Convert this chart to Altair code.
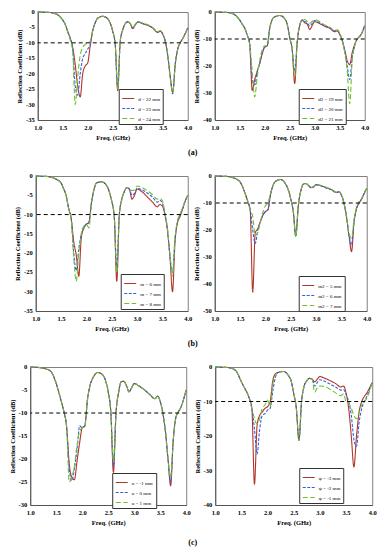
import altair as alt
import pandas as pd

freq = [1.0, 1.1, 1.2, 1.3, 1.4, 1.5, 1.55, 1.6, 1.65, 1.7,
        1.75, 1.8, 1.85, 1.9, 1.95, 2.0, 2.05, 2.1, 2.15, 2.2,
        2.3, 2.4, 2.45, 2.5, 2.55, 2.6, 2.65, 2.7, 2.75, 2.8,
        2.85, 2.9, 2.95, 3.0, 3.1, 3.2, 3.3, 3.4, 3.45, 3.5,
        3.55, 3.6, 3.65, 3.7, 3.75, 3.8, 3.85, 3.9, 3.95, 4.0]

# (a) left
a1_labels = ["d = 22 mm", "d = 23 mm", "d = 24 mm"]
a1_s1 = [0, -0.05, -0.1, -0.3, -0.9, -2.6, -4.0, -6.3, -8.5, -11.5,
         -17, -24, -27.5, -20, -17.5, -16.5, -11, -6, -3.5, -2.0,
         -1.4, -2.2, -3.6, -6.2, -10.5, -25.5, -9.5, -5.8, -3.8, -3.2,
         -3.8, -5.4, -4.2, -3.3, -3.8, -4.3, -5.2, -6.6, -6.2, -7.2,
         -9.5, -14, -21, -26, -17, -12, -10, -8.6, -7, -5.2]
a1_s2 = [0, -0.05, -0.1, -0.3, -0.9, -2.6, -4.0, -6.3, -8.5, -11.8,
         -24, -27, -20, -15, -13.5, -12, -10.5, -6, -3.5, -2.0,
         -1.4, -2.2, -3.6, -6.2, -10.5, -24.5, -9.5, -5.8, -3.8, -3.2,
         -3.8, -5.2, -4.1, -3.2, -3.7, -4.2, -5.1, -6.5, -6.1, -7.1,
         -9.4, -14, -21, -26.5, -17, -12, -10, -8.6, -7, -5.2]
a1_s3 = [0, -0.05, -0.1, -0.3, -0.9, -2.6, -4.1, -6.5, -9, -13,
         -30, -21, -14, -11.5, -10.5, -10, -9.5, -6, -3.5, -2.0,
         -1.4, -2.2, -3.6, -6.2, -10.5, -25, -9.5, -5.8, -3.8, -3.1,
         -3.7, -5.0, -4.0, -3.1, -3.6, -4.1, -5.0, -6.4, -6.0, -7.0,
         -9.3, -14, -21.5, -26, -17, -12, -10, -8.6, -7, -5.2]

# (a) right
a2_labels = ["d2 = 19 mm", "d2 = 20 mm", "d2 = 21 mm"]
a2_s1 = [0, -0.05, -0.1, -0.3, -1.0, -3.0, -4.5, -6.0, -8.5, -12,
         -29, -25, -22, -19, -15.5, -13, -12.5, -6, -2.8, -1.8,
         -1.3, -2.5, -4.5, -9.5, -14, -26.5, -11, -5, -3.0, -4.0,
         -4.5, -6.5, -5.0, -3.6, -4.3, -5.3, -6.0, -7.3, -7.0, -8.3,
         -10.5, -14, -18, -19.5, -15, -12, -10, -9, -7.5, -5]
a2_s2 = [0, -0.05, -0.1, -0.3, -1.0, -3.0, -4.5, -6.0, -8.5, -12,
         -25, -27, -22, -19, -15, -13, -12.5, -6, -2.8, -1.8,
         -1.3, -2.5, -4.5, -9.5, -14, -22, -11, -5, -3.0, -3.5,
         -4.0, -5.2, -4.2, -3.2, -4.0, -5.0, -5.8, -7.0, -6.8, -8.0,
         -10.5, -14.5, -20, -25, -17, -12.5, -10, -9, -7.5, -5]
a2_s3 = [0, -0.05, -0.1, -0.3, -1.0, -3.0, -4.5, -6.0, -8.5, -12,
         -22, -31.5, -24, -18, -14, -12.5, -12.5, -6, -2.8, -1.8,
         -1.3, -2.5, -4.5, -9.5, -14, -24, -11, -5, -3.0, -2.8,
         -3.5, -4.2, -3.5, -2.8, -3.6, -4.8, -5.6, -6.8, -6.6, -7.8,
         -10.5, -15, -22, -34, -18, -12.5, -10, -9, -7.5, -5]

# (b) left
b1_labels = ["m = 6 mm", "m = 7 mm", "m = 8 mm"]
b1_s1 = [0, -0.05, -0.1, -0.3, -0.8, -1.8, -3.3, -5.0, -8.4, -11,
         -17, -20.5, -26, -16, -13.5, -12.5, -12, -7, -3.5, -1.8,
         -1.5, -2.5, -4, -6.5, -10.5, -27.3, -10, -6, -4, -3,
         -3.5, -6.0, -5.0, -3.4, -4.1, -5.4, -6.7, -8.0, -7.4, -7.8,
         -10, -14, -21, -30, -17, -12, -10.5, -8.5, -6.5, -5]
b1_s2 = [0, -0.05, -0.1, -0.3, -0.8, -1.8, -3.3, -5.0, -8.4, -11,
         -20, -24.5, -19, -15, -13.5, -12.5, -12, -7, -3.5, -1.8,
         -1.5, -2.5, -4, -6.5, -10.5, -23.8, -10, -6, -4, -3,
         -3.4, -5.0, -4.5, -3.2, -3.6, -4.4, -5.4, -6.8, -6.3, -7.0,
         -10, -14, -21, -25, -16, -12, -10, -8.5, -6.5, -5]
b1_s3 = [0, -0.05, -0.1, -0.3, -0.8, -1.8, -3.3, -5.0, -8.4, -11,
         -21, -27.3, -20, -15, -13, -12.5, -13.5, -7, -3.5, -1.8,
         -1.5, -2.5, -4, -6.5, -10.5, -25, -10, -6, -4, -3,
         -3.3, -3.8, -3.6, -2.6, -3.0, -3.8, -4.8, -6.0, -5.8, -6.5,
         -9.5, -13.5, -20.5, -26, -16, -11.5, -9.8, -8.2, -6.3, -5]

# (b) right
b2_labels = ["m2 = 5 mm", "m2 = 6 mm", "m2 = 7 mm"]
b2_s1 = [0, -0.05, -0.1, -0.3, -0.9, -2.2, -4.0, -6.5, -9.3, -12.6,
         -43, -21, -19.5, -17, -14.5, -13.2, -12.5, -7, -3.5, -2,
         -1.3, -3, -5, -8.5, -13, -22, -11, -5.5, -3.0, -2.8,
         -3.5, -4.3, -4.0, -3.2, -3.6, -4.3, -5.0, -6.0, -5.8, -7.0,
         -10, -15, -22, -28, -17, -12, -10, -8.5, -6.5, -4.5]
b2_s2 = [0, -0.05, -0.1, -0.3, -0.9, -2.2, -4.0, -6.5, -9.3, -12.6,
         -20, -25, -20, -17, -14.5, -13.2, -12.5, -7, -3.5, -2,
         -1.3, -3, -5, -8.5, -13, -22.5, -11, -5.5, -3.0, -2.8,
         -3.5, -4.4, -4.1, -3.3, -3.7, -4.4, -5.1, -6.1, -5.9, -7.1,
         -10, -15, -22, -25.5, -17, -12, -10, -8.5, -6.5, -4.5]
b2_s3 = [0, -0.05, -0.1, -0.3, -0.9, -2.2, -4.0, -6.5, -9.3, -12.6,
         -15, -22, -21, -17, -13.5, -11, -10, -6.5, -3.5, -2,
         -1.3, -3, -5, -8.5, -13, -22.4, -11, -5.5, -3.0, -2.8,
         -3.4, -4.2, -3.9, -3.1, -3.5, -4.2, -4.9, -5.9, -5.7, -6.9,
         -10, -15, -21, -23, -16, -11.5, -9.5, -8.3, -6.4, -4.5]

# (c) left
c1_labels = ["u = -1 mm", "u = 0 mm", "u = 1 mm"]
c1_s1 = [0, -0.05, -0.15, -0.4, -1.0, -3.6, -5.5, -7.6, -9.8, -13,
         -21, -24, -24.5, -20.5, -16.5, -13.2, -12.8, -7.2, -4.0, -2.5,
         -1.2, -1.8, -3.0, -5.4, -9.8, -22.9, -10, -5.5, -3.2, -3.1,
         -4.0, -5.4, -4.5, -3.6, -4.2, -5.0, -6.0, -6.9, -6.3, -7.5,
         -10, -14, -20, -25.8, -16, -11, -9.7, -8.7, -7, -5]
c1_s2 = [0, -0.05, -0.15, -0.4, -1.0, -3.6, -5.5, -7.6, -9.8, -13,
         -22, -24.7, -22, -18, -12.8, -13.2, -12.8, -7.2, -4.0, -2.5,
         -1.2, -1.8, -3.0, -5.4, -9.8, -21.5, -10, -5.5, -3.2, -3.1,
         -4.0, -5.4, -4.5, -3.6, -4.2, -5.0, -6.0, -6.9, -6.3, -7.5,
         -10, -14, -20, -25, -16, -11, -9.7, -8.7, -7, -5]
c1_s3 = [0, -0.05, -0.15, -0.4, -1.0, -3.6, -5.5, -7.6, -9.8, -13,
         -25, -24, -21.5, -17, -14, -13.2, -12.8, -7.2, -4.0, -2.5,
         -1.2, -1.8, -3.0, -5.4, -9.8, -20.5, -10, -5.5, -3.2, -3.1,
         -4.0, -5.4, -4.5, -3.6, -4.2, -5.0, -6.0, -6.9, -6.3, -7.5,
         -10, -14, -20, -24, -16, -11, -9.7, -8.7, -7, -5]

# (c) right
c2_labels = ["ψ = -3 mm", "ψ = -2 mm", "ψ = -1 mm"]
c2_s1 = [0, -0.05, -0.1, -0.3, -1.2, -4.3, -5.8, -7.2, -9.0, -12,
         -34, -17, -14, -13, -12, -11.5, -10, -4, -2, -1.6,
         -1.3, -2.5, -4, -7.7, -12, -21.3, -10, -5.5, -4, -3.3,
         -3.5, -4.3, -3.5, -2.8, -3.3, -4.0, -4.8, -5.8, -5.5, -7.5,
         -12, -20, -29, -20, -13, -10, -8.5, -7.5, -6, -4.5]
c2_s2 = [0, -0.05, -0.1, -0.3, -1.2, -4.3, -5.8, -7.2, -9.0, -12,
         -18, -25.2, -18, -14, -13.5, -12.5, -12, -7, -3, -1.6,
         -1.3, -2.5, -4, -7.7, -12, -21.3, -10, -5.5, -4, -3.3,
         -3.5, -5.5, -4.5, -3.7, -4.2, -5.0, -5.8, -6.7, -6.5, -8.0,
         -10, -14, -21, -23, -16, -12, -10, -8.5, -6.5, -4.5]
c2_s3 = [0, -0.05, -0.1, -0.3, -1.2, -4.3, -5.8, -7.2, -9.0, -12,
         -15, -16.5, -15, -12, -11, -9.6, -11.5, -5, -2.5, -1.6,
         -1.3, -2.5, -4, -7.7, -12, -21.3, -10, -5.5, -4, -3.3,
         -3.5, -7.3, -6.0, -5.5, -5.7, -6.5, -7.5, -8.3, -7.8, -10,
         -10.5, -12, -14, -15, -13, -11, -10, -9, -7, -4.5]

x_ticks = [1.0, 1.5, 2.0, 2.5, 3.0, 3.5, 4.0]
ref_level = [-10]
COLORS = ["#B2352A", "#3A5BE0", "#6CC12E"]
DASHES = [[1, 0], [3, 1.5], [5, 2.5]]
FONT = "Liberation Serif"


def panel(labels, series, ymin, ystep, width, height, leg_r, leg_b):
    rows = []
    for lab, vals in zip(labels, series):
        for f, v in zip(freq, vals):
            rows.append({"f": f, "v": v, "s": lab})
    df = pd.DataFrame(rows)
    yticks = list(range(0, ymin - 1, -ystep))
    tick_df = pd.DataFrame({"v": yticks, "lab": [str(t) for t in yticks]})
    legend = alt.Legend(orient="none", legendX=width - leg_r, legendY=height - leg_b,
                        symbolType="stroke", symbolSize=144, symbolStrokeWidth=1.2,
                        labelFont=FONT, labelFontSize=5, labelColor="black",
                        padding=2.5, rowPadding=-4, labelOffset=3,
                        strokeColor="#333333", fillColor="white")
    yscale = alt.Scale(domain=[ymin, 0], nice=False, zero=False)
    x = alt.X("f:Q", scale=alt.Scale(domain=[1, 4], nice=False, zero=False),
              axis=alt.Axis(values=x_ticks, format=".1f", title="Freq. (GHz)",
                            labelOverlap=False, labelFlush=False))
    y = alt.Y("v:Q", scale=yscale,
              axis=alt.Axis(values=yticks, labels=False, titlePadding=15,
                            title="Reflection Coefficient (dB)"))
    lines = alt.Chart(df).mark_line(strokeWidth=1.1, interpolate="monotone").encode(
        x=x, y=y,
        color=alt.Color("s:N", scale=alt.Scale(domain=labels, range=COLORS),
                        legend=legend, title=None),
        strokeDash=alt.StrokeDash("s:N", scale=alt.Scale(domain=labels, range=DASHES),
                                  legend=legend, title=None),
    )
    ref = alt.Chart(pd.DataFrame({"lvl": ref_level})).mark_rule(
        color="black", strokeDash=[4, 3], strokeWidth=1).encode(y=alt.datum(ref_level[0]))
    ylab = alt.Chart(tick_df).mark_text(
        align="right", baseline="middle", dx=-3, font=FONT, fontSize=6.5,
        fontWeight="bold", color="black").encode(
        y=alt.Y("v:Q", scale=yscale), x=alt.value(0), text="lab:N")
    return alt.layer(lines, ref, ylab).properties(width=width, height=height)


def row(left, right, label, spacing, offset):
    return alt.hconcat(left, right, spacing=spacing).resolve_scale(
        color="independent", strokeDash="independent").properties(
        title=alt.TitleParams(label, orient="bottom", anchor="middle", frame="bounds",
                              offset=offset, font=FONT, fontSize=8, fontWeight="bold"))


row_a = row(panel(a1_labels, [a1_s1, a1_s2, a1_s3], -35, 5, 150, 108, 69, 31),
            panel(a2_labels, [a2_s1, a2_s2, a2_s3], -40, 10, 150, 108, 66, 31),
            "(a)", 0, 7)
row_b = row(panel(b1_labels, [b1_s1, b1_s2, b1_s3], -35, 5, 152, 135, 67, 37),
            panel(b2_labels, [b2_s1, b2_s2, b2_s3], -50, 10, 152, 135, 68, 35),
            "(b)", 0, 7)
row_c = row(panel(c1_labels, [c1_s1, c1_s2, c1_s3], -30, 5, 156, 138, 74, 32),
            panel(c2_labels, [c2_s1, c2_s2, c2_s3], -40, 10, 157, 138, 73, 37),
            "(c)", 2, 12)

chart = alt.vconcat(row_a, row_b, row_c, spacing=15, center=True).resolve_scale(
    color="independent", strokeDash="independent"
).properties(
    padding={"left": 0, "top": 0, "right": 0, "bottom": 0}
).configure_view(
    stroke="#808080", strokeWidth=1
).configure_axis(
    grid=False, ticks=False, tickSize=0, domainColor="#555555",
    labelFont=FONT, labelFontSize=6.5, labelFontWeight="bold", labelColor="black",
    titleFont=FONT, titleFontSize=6.5, titleFontWeight="bold", titleColor="black",
    labelFlush=False, labelOverlap=False
).configure_axisX(
    labelPadding=4, titlePadding=4
)

chart.save("out.html", embed_options={"renderer": "svg", "actions": False})
